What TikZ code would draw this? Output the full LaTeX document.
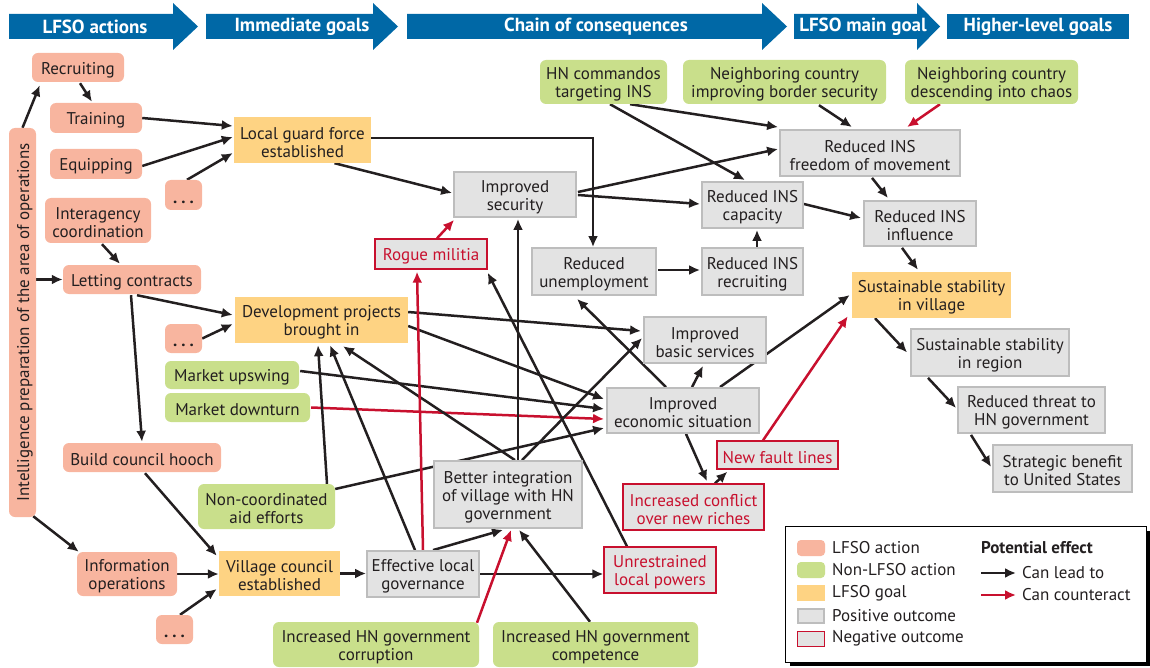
\documentclass[tikz,border=0pt]{standalone}
\usepackage{fontspec}
\setmainfont{PT Sans}
\usetikzlibrary{arrows.meta,calc}
\definecolor{salmon}{HTML}{F8B59F}
\definecolor{lgreen}{HTML}{C9DF8B}
\definecolor{gold}{HTML}{FED383}
\definecolor{lgray}{HTML}{E3E3E3}
\definecolor{gborder}{HTML}{BDBDBD}
\definecolor{myred}{HTML}{C8102E}
\definecolor{txt}{HTML}{231F20}
\definecolor{hblue}{HTML}{0068A6}
\pgfdeclarelayer{bg}
\pgfsetlayers{bg,main}
\newcommand{\mydots}{\textbf{.\hspace{4pt}.\hspace{4pt}.}}
\newcommand{\st}{\rule{0pt}{17pt}}
\begin{document}
\begin{tikzpicture}[x=1pt,y=-1pt,
  font=\fontsize{17}{18}\selectfont,
  plainbox/.style={align=center, inner sep=0pt, text=txt},
  basebox/.style={plainbox, execute at begin node={\st}},
  actbox/.style={basebox, fill=salmon, rounded corners=6pt},
  nactbox/.style={basebox, fill=lgreen, rounded corners=6pt},
  goalbox/.style={basebox, fill=gold},
  posbox/.style={basebox, fill=lgray, draw=gborder, line width=1.8pt},
  negbox/.style={basebox, fill=lgray, draw=myred, line width=1.3pt, text=myred},
  arr/.style={line width=2.5pt, draw=txt, -{Latex[length=11pt,width=10pt]}},
  rarr/.style={arr, draw=myred},
  htext/.style={text=white, font=\fontsize{19}{20}\selectfont\bfseries, inner sep=0pt}
]
\useasboundingbox (0,0) rectangle (1150,668);

% header arrows
\fill[hblue] (9,14) -- (173,14) -- (173,3) -- (198,26.5) -- (173,50) -- (173,39) -- (9,39) -- cycle;
\fill[hblue] (206,14) -- (373,14) -- (373,3) -- (398,26.5) -- (373,50) -- (373,39) -- (206,39) -- cycle;
\fill[hblue] (407,14) -- (762,14) -- (762,3) -- (787,26.5) -- (762,50) -- (762,39) -- (407,39) -- cycle;
\fill[hblue] (794,14) -- (917,14) -- (917,3) -- (940,26.5) -- (917,50) -- (917,39) -- (794,39) -- cycle;
\fill[hblue] (947,14) rectangle (1129,39);
\node[htext] (h1) at (95,27) {LFSO actions};
\node[htext] (h2) at (302,27) {Immediate goals};
\node[htext] (h3) at (596,27) {Chain of consequences};
\node[htext] (h4) at (863,27) {LFSO main goal};
\node[htext] (h5) at (1038,27) {Higher-level goals};

% LFSO actions
\node[actbox, rotate=90, minimum width=389, minimum height=27] (ipoa) at (22.5,322.5) {Intelligence preparation of the area of operations};
\node[actbox, minimum width=92, minimum height=29] (rec) at (78,67.5) {Recruiting};
\node[actbox, minimum width=92, minimum height=30] (trn) at (96,118) {Training};
\node[actbox, minimum width=92, minimum height=30] (eqp) at (96,164) {Equipping};
\node[actbox, minimum width=37, minimum height=30] (dotA) at (183.5,195) {\mydots};
\node[actbox, minimum width=106, minimum height=45] (inter) at (98,220.5) {\st Interagency\\coordination};
\node[actbox, minimum width=138, minimum height=29] (lett) at (132,279.5) {Letting contracts};
\node[actbox, minimum width=37, minimum height=29] (dotB) at (183.5,338.5) {\mydots};
\node[actbox, minimum width=158, minimum height=29] (hooch) at (142,457.5) {Build council hooch};
\node[actbox, minimum width=100, minimum height=44] (info) at (127,574) {\st Information\\operations};
\node[actbox, minimum width=37, minimum height=29] (dotC) at (174.5,629.5) {\mydots};

% non-LFSO actions
\node[nactbox, minimum width=134, minimum height=28] (mup) at (232,375) {Market upswing};
\node[nactbox, minimum width=145, minimum height=29] (mdown) at (237.5,407.5) {Market downturn};
\node[nactbox, minimum width=137, minimum height=45] (aid) at (266.5,506.5) {\st Non-coordinated\\aid efforts};
\node[nactbox, minimum width=206, minimum height=45] (corr) at (376,644.5) {\st Increased HN government\\corruption};
\node[nactbox, minimum width=205, minimum height=45] (comp) at (595.5,644.5) {\st Increased HN government\\competence};
\node[nactbox, minimum width=127, minimum height=44] (cmd) at (603.5,82) {\st HN commandos\\targeting INS};
\node[nactbox, minimum width=203, minimum height=44] (border) at (784.5,82) {\st Neighboring country\\improving border security};
\node[nactbox, minimum width=173, minimum height=44] (chaos) at (991.5,82) {\st Neighboring country\\descending into chaos};

% goals
\node[goalbox, minimum width=137, minimum height=46] (guard) at (302.5,140) {\st Local guard force\\established};
\node[goalbox, minimum width=173, minimum height=46] (dev) at (321.5,320) {\st Development projects\\brought in};
\node[goalbox, minimum width=121, minimum height=45] (vcouncil) at (279.5,573.5) {\st Village council\\established};
\node[goalbox, minimum width=159, minimum height=46] (svil) at (931.5,295) {\st Sustainable stability\\in village};

% positive outcomes
\node[posbox, minimum width=122, minimum height=45] (sec) at (515,194.5) {\st Improved\\security};
\node[posbox, minimum width=124, minimum height=47] (unemp) at (594,271.5) {\st Reduced\\unemployment};
\node[posbox, minimum width=101, minimum height=46] (cap) at (752.5,205) {\st Reduced INS\\capacity};
\node[posbox, minimum width=101, minimum height=47] (recr) at (752.5,271.5) {\st Reduced INS\\recruiting};
\node[posbox, minimum width=122, minimum height=46] (basic) at (705,340) {\st Improved\\basic services};
\node[posbox, minimum width=152, minimum height=45] (econ) at (683,410.5) {\st Improved\\economic situation};
\node[posbox, minimum width=148, minimum height=67] (integ) at (508,494.5) {\st Better integration\\of village with HN\\government};
\node[posbox, minimum width=112, minimum height=46] (eff) at (423,574) {\st Effective local\\governance};
\node[posbox, minimum width=180, minimum height=46] (free) at (870,153) {\st Reduced INS\\freedom of movement};
\node[posbox, minimum width=112, minimum height=45] (infl) at (920,223.5) {\st Reduced INS\\influence};
\node[posbox, minimum width=158, minimum height=47] (sreg) at (990,352.5) {\st Sustainable stability\\in region};
\node[posbox, minimum width=147, minimum height=46] (threat) at (1031.5,410) {\st Reduced threat to\\HN government};
\node[posbox, minimum width=139, minimum height=47] (strat) at (1062.5,468.5) {\st Strategic benefit\\to United States};

% negative outcomes
\node[negbox, minimum width=112, minimum height=30] (rogue) at (431,254) {Rogue militia};
\node[negbox, minimum width=112, minimum height=46] (unres) at (660,570) {\st Unrestrained\\local powers};
\node[negbox, minimum width=141, minimum height=46] (conflict) at (693.5,507) {\st Increased conflict\\over new riches};
\node[negbox, minimum width=121, minimum height=28] (fault) at (777.5,455) {New fault lines};

% connectors
\begin{pgfonlayer}{bg}
\draw[arr] (ipoa.east) -- ([shift={(8,3)}]rec.south west);
\draw[arr] ([shift={(2,1)}]rec.south) -- ([shift={(-4,-1)}]trn.north);
\draw[arr] (ipoa.south |- lett.west) -- (lett.west);
\draw[arr] ([shift={(-3,-1)}]ipoa.south west) -- ([shift={(2,0)}]info.north west);
\draw[arr] ([shift={(4,1)}]inter.south) -- ([shift={(-12,-1)}]lett.north);
\draw[arr] ([shift={(-1,1)}]lett.south) -- ([shift={(0,-1)}]hooch.north);
\draw[arr] ([shift={(5,1)}]lett.south) -- ([shift={(-2,-5)}]dev.west);
\draw[arr] (dotB.east) -- ([shift={(-2,4)}]dev.west);
\draw[arr] (trn.east) -- ([shift={(-1,-14)}]guard.west);
\draw[arr] ([shift={(0,2)}]eqp.east) -- ([shift={(-1,-3)}]guard.west);
\draw[arr] ([shift={(3.5,0)}]dotA.north) -- ([shift={(-1,13)}]guard.west);
\draw[arr] ([shift={(32,0)}]guard.south) -- ([shift={(-1,-1.5)}]sec.west);
\draw[arr] ([shift={(0,-2)}]guard.east) -| ([shift={(-1,0)}]unemp.north);
\draw[arr] ([shift={(1,-2.5)}]sec.east) -- ([shift={(-1,-4)}]free.west);
\draw[arr] ([shift={(1,0.5)}]sec.east) -- ([shift={(-1,-1)}]cap.west);
\draw[arr] ([shift={(6.5,0)}]cmd.south) -- ([shift={(-7.5,-1)}]cap.north);
\draw[arr] ([shift={(26.5,0)}]cmd.south) -- ([shift={(-1,-2)}]free.north west);
\draw[arr] ([shift={(34.5,1)}]border.south) -- ([shift={(-18,-2)}]free.north);
\draw[rarr] ([shift={(-51.5,0)}]chaos.south) -- ([shift={(37,-2)}]free.north);
\draw[arr] ([shift={(2,1)}]free.south) -- ([shift={(-32,-2)}]infl.north);
\draw[arr] ([shift={(0,-1)}]cap.east) -- ([shift={(-2,-5.5)}]infl.west);
\draw[arr] ([shift={(4.5,0)}]recr.north) -- ([shift={(4.5,1)}]cap.south);
\draw[arr] ([shift={(1,-1.5)}]unemp.east) -- ([shift={(-1,-1.5)}]recr.west);
\draw[arr] ([shift={(-18,1)}]infl.south) -- ([shift={(-13.5,-2)}]svil.north);
\draw[arr] ([shift={(-56.5,0)}]svil.south) -- ([shift={(-3,0)}]sreg.west);
\draw[arr] ([shift={(-62,1)}]sreg.south) -- ([shift={(-1,-2)}]threat.west);
\draw[arr] ([shift={(-60.5,1)}]threat.south) -- ([shift={(-1,-1.5)}]strat.west);
\draw[arr] ([shift={(37,0)}]econ.north) -- ([shift={(-2,0)}]svil.west);
\draw[rarr] ([shift={(-14.5,0)}]fault.north) -- ([shift={(-4,-2)}]svil.south west);
\draw[arr] ([shift={(9,0)}]econ.north) -- ([shift={(-2,2)}]basic.south);
\draw[arr] ([shift={(3,0)}]econ.south) -- ([shift={(13.5,-2)}]conflict.north);
\draw[arr] ([shift={(21.5,0)}]conflict.north) -- ([shift={(11,2)}]fault.south west);
\draw[arr] ([shift={(-17,0)}]econ.north) -- ([shift={(-17,3)}]unemp.south);
\draw[arr] ([shift={(0,-8)}]dev.east) -- ([shift={(-2,-9)}]basic.west);
\draw[arr] ([shift={(0,6)}]dev.east) -- ([shift={(-2,-11.5)}]econ.west);
\draw[arr] ([shift={(1,-4)}]mup.east) -- ([shift={(-2,-1.5)}]econ.west);
\draw[rarr] ([shift={(1,0)}]mdown.east) -- ([shift={(-2,8.5)}]econ.west);
\draw[arr] ([shift={(0,-17.5)}]aid.east) -- ([shift={(-2,17.5)}]econ.west);
\draw[arr] ([shift={(60.5,0)}]aid.north) -- ([shift={(-3.5,2)}]dev.south);
\draw[arr] ([shift={(-8,0)}]eff.north) -- ([shift={(8.5,2)}]dev.south);
\draw[arr] ([shift={(7,0)}]integ.north) -- ([shift={(21.5,3)}]dev.south);
\draw[arr] ([shift={(10,0)}]integ.north) -- ([shift={(3,1)}]sec.south);
\draw[arr] ([shift={(14,0)}]integ.north) -- ([shift={(-1,-2)}]basic.west);
\draw[arr] ([shift={(10,0)}]eff.north) -- ([shift={(-5,1)}]integ.south);
\draw[arr] (eff.east) -- (eff.east -| unres.west);
\draw[rarr] ([shift={(101,1)}]corr.north) -- ([shift={(3,1)}]integ.south);
\draw[rarr] (eff.north) -- ([shift={(-14,2)}]rogue.south);
\draw[rarr] ([shift={(6,0)}]rogue.north) -- ([shift={(1,2)}]sec.south west);
\draw[arr] ([shift={(-33,0)}]unres.north) -- ([shift={(0,3)}]rogue.south east);
\draw[arr] ([shift={(-5.5,0)}]comp.north) -- ([shift={(11,1)}]integ.south);
\draw[arr] ([shift={(3,1)}]hooch.south) -- ([shift={(-2,5)}]vcouncil.north west);
\draw[arr] (info.east) -- (info.east -| vcouncil.west);
\draw[arr] ([shift={(5.5,0)}]dotC.north) -- ([shift={(-2,15.5)}]vcouncil.west);
\draw[arr] (vcouncil.east) -- (vcouncil.east -| eff.west);
\end{pgfonlayer}

% legend
\fill[black] (790,531) rectangle (1150,666);
\draw[fill=white, line width=0.8pt] (785,526) rectangle (1146,662);
\fill[salmon, rounded corners=4pt] (797,540) rectangle (825,556);
\fill[lgreen, rounded corners=4pt] (797,562) rectangle (825,578);
\fill[gold] (797,585) rectangle (825,601);
\draw[fill=lgray, draw=gborder, line width=1.5pt] (798,609) rectangle (824,623);
\draw[fill=lgray, draw=myred, line width=1pt] (797.5,631) rectangle (824.5,646);
\node[plainbox, anchor=west] (t1) at (832,548) {LFSO action};
\node[plainbox, anchor=west] (t2) at (832,570) {Non-LFSO action};
\node[plainbox, anchor=west] (t3) at (832,593) {LFSO goal};
\node[plainbox, anchor=west] (t4) at (832,616) {Positive outcome};
\node[plainbox, anchor=west] (t5) at (832,638.5) {Negative outcome};
\node[plainbox, anchor=west, font=\fontsize{17}{18}\selectfont\bfseries] (pe) at (981,548) {Potential effect};
\coordinate (la) at (981,573);
\coordinate (lr) at (981,595);
\node[plainbox, anchor=west] (t6) at (1022,573) {Can lead to};
\node[plainbox, anchor=west] (t7) at (1022,595) {Can counteract};
\draw[arr] (la) -- ([shift={(-6,0)}]t6.west);
\draw[rarr] (lr) -- ([shift={(-6,0)}]t7.west);
\end{tikzpicture}
\end{document}
